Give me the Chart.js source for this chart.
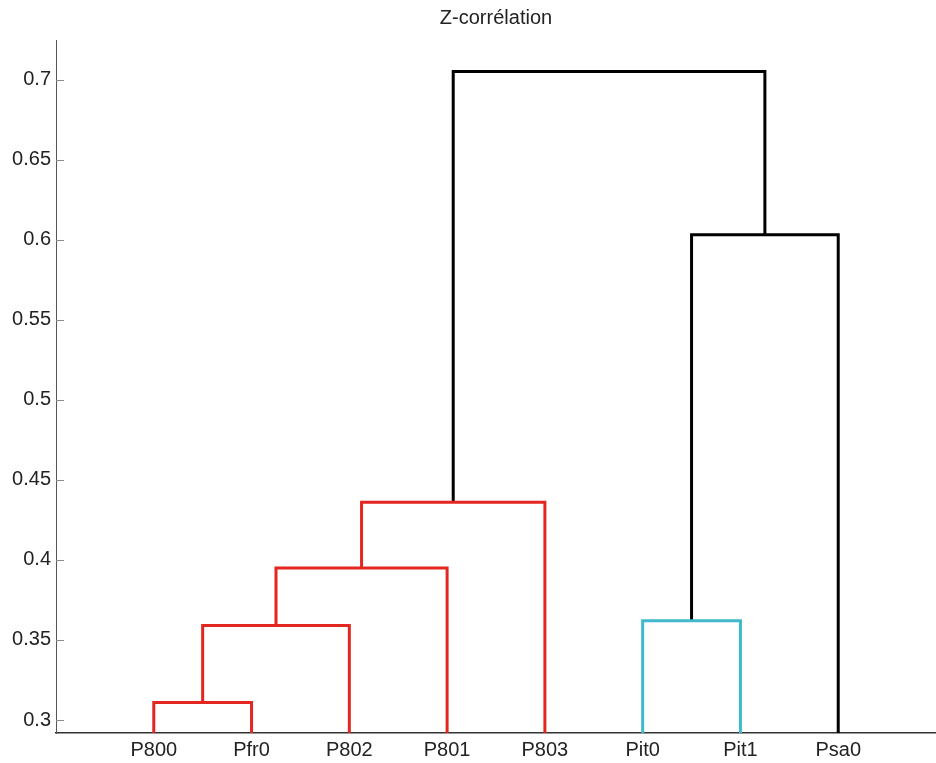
<!DOCTYPE html>
<html>
<head>
<meta charset="utf-8">
<title>Z-corrélation</title>
<script src="https://cdn.jsdelivr.net/npm/chart.js@4.4.1/dist/chart.umd.min.js"></script>
<style>
  html, body { margin: 0; padding: 0; background: #ffffff; }
  #wrap { width: 936px; height: 763px; position: relative; }
</style>
</head>
<body>
<div id="wrap"><canvas id="dendro"></canvas></div>
<script>
// Leaves, in dendrogram order (x = 1..8)
const leafLabels = ['P800', 'Pfr0', 'P802', 'P801', 'P803', 'Pit0', 'Pit1', 'Psa0'];

// Linkage rows: members 1..8 are leaves, 9.. are the clusters formed by earlier rows
const linkLeft   = [1, 9, 6, 10, 12, 11, 13];
const linkRight  = [2, 3, 7, 4, 5, 8, 14];
const linkHeight = [0.311, 0.359, 0.362, 0.395, 0.436, 0.603, 0.705];
const linkColor  = ['#e3261f', '#e3261f', '#41b9cc', '#e3261f', '#e3261f', '#000000', '#000000'];

// Axis ticks
const yTickValues = [0.3, 0.35, 0.4, 0.45, 0.5, 0.55, 0.6, 0.65, 0.7];
const yTickLabels = ['0.3', '0.35', '0.4', '0.45', '0.5', '0.55', '0.6', '0.65', '0.7'];

// Axis limits
const xMin = 0, xMax = 9;
const yMin = 0.2919, yMax = 0.7247;

// Position of every node: leaves sit on the baseline, clusters at their merge height
const nodeX = leafLabels.map((_, i) => i + 1);
const nodeY = leafLabels.map(() => yMin);
const datasets = [];
linkLeft.forEach((l, r) => {
  const a = l - 1, b = linkRight[r] - 1, h = linkHeight[r];
  datasets.push({
    data: [
      { x: nodeX[a], y: nodeY[a] },
      { x: nodeX[a], y: h },
      { x: nodeX[b], y: h },
      { x: nodeX[b], y: nodeY[b] }
    ],
    showLine: true,
    borderColor: linkColor[r],
    borderWidth: 3,
    borderJoinStyle: 'miter',
    borderCapStyle: 'butt',
    pointRadius: 0,
    pointHoverRadius: 0,
    tension: 0,
    fill: false
  });
  nodeX.push((nodeX[a] + nodeX[b]) / 2);
  nodeY.push(h);
});

// Short tick marks pointing inward from the y axis
const innerTicks = {
  id: 'innerTicks',
  afterDraw(chart) {
    const y = chart.scales.y;
    const ctx = chart.ctx;
    ctx.save();
    ctx.strokeStyle = '#8a8a8a';
    ctx.lineWidth = 1;
    y.ticks.forEach(t => {
      const py = Math.round(y.getPixelForValue(t.value)) + 0.5;
      ctx.beginPath();
      ctx.moveTo(chart.chartArea.left, py);
      ctx.lineTo(chart.chartArea.left + 8, py);
      ctx.stroke();
    });
    ctx.restore();
  }
};

Chart.defaults.font.family = "'Liberation Sans', Arial, sans-serif";
Chart.defaults.font.size = 20;
Chart.defaults.color = '#222222';

new Chart(document.getElementById('dendro'), {
  type: 'scatter',
  data: { datasets },
  options: {
    responsive: true,
    maintainAspectRatio: false,
    animation: false,
    layout: { padding: 0 },
    plugins: {
      legend: { display: false },
      tooltip: { enabled: false },
      title: {
        display: true,
        text: 'Z-corrélation',
        fullSize: false,
        color: '#222222',
        font: { family: "'Liberation Sans', Arial, sans-serif", size: 20, weight: 'normal' },
        padding: { top: 6, bottom: 10 }
      }
    },
    scales: {
      x: {
        type: 'linear',
        min: xMin,
        max: xMax,
        grid: { display: false, drawTicks: false },
        border: { display: true, color: '#333333', width: 1.5 },
        afterBuildTicks(scale) {
          scale.ticks = nodeX.slice(0, leafLabels.length).map(v => ({ value: v }));
        },
        afterFit(scale) { scale.height = 30; },
        ticks: {
          autoSkip: false,
          maxRotation: 0,
          padding: 5,
          color: '#222222',
          callback: (v) => leafLabels[v - 1] ?? ''
        }
      },
      y: {
        type: 'linear',
        min: yMin,
        max: yMax,
        grid: { display: false, drawTicks: false },
        border: { display: true, color: '#555555', width: 1 },
        afterBuildTicks(scale) {
          scale.ticks = yTickValues.map(v => ({ value: v }));
        },
        afterFit(scale) { scale.width = 56; },
        ticks: {
          autoSkip: false,
          padding: 5,
          color: '#222222',
          callback: (v, i) => yTickLabels[i]
        }
      }
    }
  },
  plugins: [innerTicks]
});
</script>
</body>
</html>
